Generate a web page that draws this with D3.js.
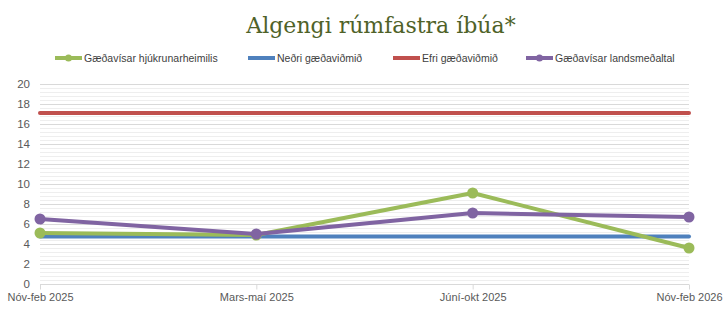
<!DOCTYPE html>
<html><head><meta charset="utf-8">
<script src="https://cdn.jsdelivr.net/npm/d3@7"></script>
<style>body{margin:0;background:#fff;} svg{display:block;}</style>
</head><body>
<script>
const categories = ["Nóv-feb 2025","Mars-maí 2025","Júní-okt 2025","Nóv-feb 2026"];
const hjukrun = [5.1, 4.9, 9.1, 3.6];
const nedri = [4.75, 4.75, 4.75, 4.75];
const efri = [17.1, 17.1, 17.1, 17.1];
const landsmedaltal = [6.5, 5.0, 7.1, 6.7];
const yTicks = [0,2,4,6,8,10,12,14,16,18,20];
const seriesNames = ["Gæðavísar hjúkrunarheimilis","Neðri gæðaviðmið","Efri gæðaviðmið","Gæðavísar landsmeðaltal"];

const series = [
  {name: seriesNames[0], values: hjukrun, color: "#9BBB59", marker: true},
  {name: seriesNames[1], values: nedri, color: "#4F81BD", marker: false},
  {name: seriesNames[2], values: efri, color: "#C0504D", marker: false},
  {name: seriesNames[3], values: landsmedaltal, color: "#8064A2", marker: true}
];
const drawOrder = [1,2,0,3];

const W = 728, H = 312;
const svg = d3.select("body").append("svg").attr("width", W).attr("height", H);

const x = d3.scalePoint().domain(categories).range([40, 689]);
const y = d3.scaleLinear().domain([0, 20]).range([284, 84]);

svg.append("text").attr("x", 381).attr("y", 33).attr("text-anchor", "middle")
  .attr("font-family", "DejaVu Serif, Liberation Serif, serif").attr("font-size", 22)
  .attr("fill", "#4F6228").text("Algengi rúmfastra íbúa*");

// minor gridlines
const minor = d3.range(0, 20.01, 0.4).filter(v => Math.abs(v/2 - Math.round(v/2)) > 1e-6);
svg.append("g").selectAll("line").data(minor).join("line")
  .attr("x1", 40).attr("x2", 689).attr("y1", d => Math.round(y(d))+0.5).attr("y2", d => Math.round(y(d))+0.5)
  .attr("stroke", "#EEEEEE").attr("stroke-width", 1);
svg.append("g").selectAll("line").data(yTicks).join("line")
  .attr("x1", 40).attr("x2", 689).attr("y1", d => Math.round(y(d))+0.5).attr("y2", d => Math.round(y(d))+0.5)
  .attr("stroke", "#D9D9D9").attr("stroke-width", 1);

// y axis labels
const yAxis = d3.axisLeft(y).tickValues(yTicks).tickSize(0).tickPadding(0);
const gy = svg.append("g").attr("transform", "translate(30,0)").call(yAxis);
gy.select(".domain").remove();
gy.selectAll("text").attr("font-family", "Liberation Sans, Arial, sans-serif").attr("font-size", 11.5).attr("fill", "#595959");

// x axis
const xAxis = d3.axisBottom(x).tickSize(5).tickPadding(4);
const gx = svg.append("g").attr("transform", `translate(0,${Math.round(y(0))+0.5})`).call(xAxis);
gx.select(".domain").attr("stroke", "#D9D9D9").attr("d", "M40,0H689");
gx.selectAll(".tick line").attr("stroke", "#D9D9D9");
gx.selectAll("text").attr("font-family", "Liberation Sans, Arial, sans-serif").attr("font-size", 11).attr("fill", "#595959");

const line = d3.line().x((d,i) => x(categories[i])).y(d => y(d));
drawOrder.forEach(k => {
  const s = series[k];
  svg.append("path").attr("d", line(s.values)).attr("fill", "none")
    .attr("stroke", s.color).attr("stroke-width", 4).attr("stroke-linejoin", "round").attr("stroke-linecap", "round");
  if (s.marker) {
    svg.append("g").selectAll("circle").data(s.values).join("circle")
      .attr("cx", (d,i) => x(categories[i])).attr("cy", d => y(d)).attr("r", 5.5).attr("fill", s.color);
  }
});

// legend
const legendX = [55, 248, 393, 526];
const lg = svg.append("g");
series.forEach((s, i) => {
  const g = lg.append("g").attr("transform", `translate(${legendX[i]},58)`);
  g.append("line").attr("x1", 0).attr("x2", 27).attr("y1", 0).attr("y2", 0).attr("stroke", s.color).attr("stroke-width", 4);
  if (s.marker) g.append("circle").attr("cx", 13.5).attr("cy", 0).attr("r", 3.5).attr("fill", s.color);
  g.append("text").attr("x", 29).attr("y", 3.5).attr("font-family", "Liberation Sans, Arial, sans-serif")
    .attr("font-size", 10.5).attr("fill", "#404040").text(s.name);
});
</script>
</body></html>
